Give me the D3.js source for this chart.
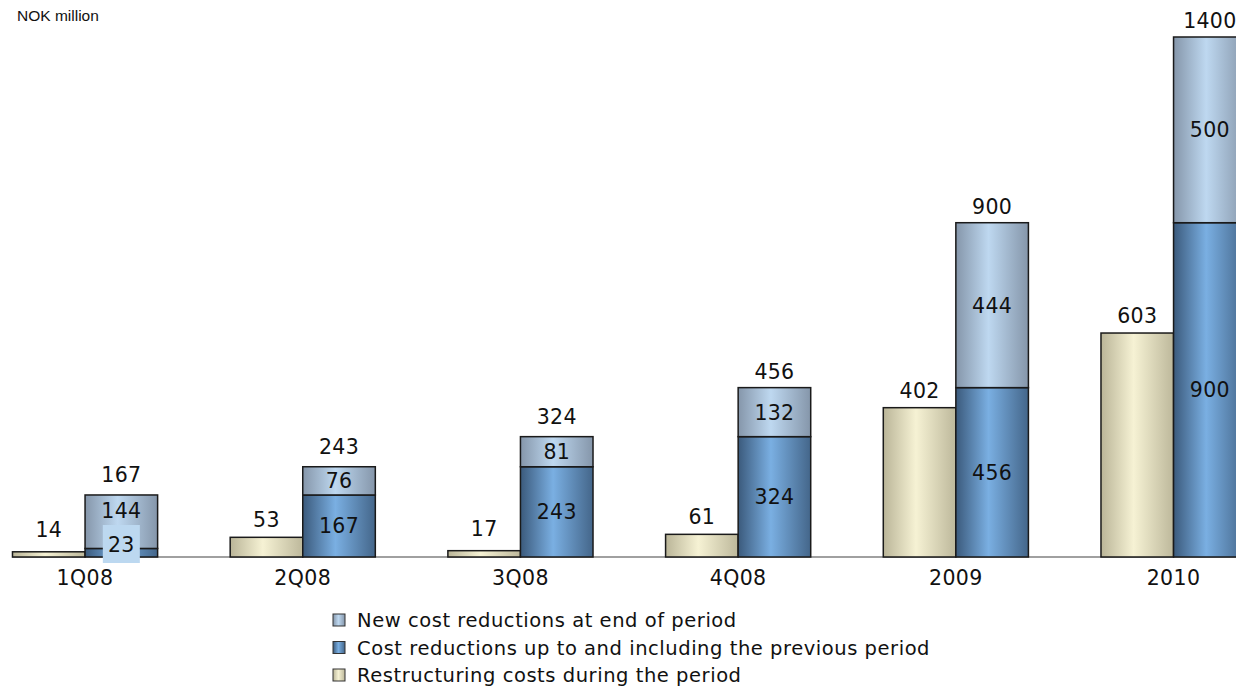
<!DOCTYPE html>
<html><head><meta charset="utf-8">
<script src="https://cdn.jsdelivr.net/npm/d3@7"></script>
<style>body{margin:0;background:#fff;overflow:hidden}svg{display:block}</style>
</head><body>
<svg id="c" width="1236" height="687"></svg>
<script>
const periods = ["1Q08","2Q08","3Q08","4Q08","2009","2010"];
const restructuring = [14,53,17,61,402,603];
const previousRed = [23,167,243,324,456,900];
const newRed = [144,76,81,132,444,500];
const legendLabels = ["New cost reductions at end of period","Cost reductions up to and including the previous period","Restructuring costs during the period"];

(function(){
const svg = d3.select("#c");
const W = 1236, H = 687;
const base = 557, plotTop = 37;
const y = d3.scaleLinear().domain([0,1400]).range([base, plotTop]);
const x = d3.scaleBand().domain(periods).range([-23.8, 1282.4]).padding(0);
const bw = x.bandwidth()/3;
const cx = p => x(p) + x.bandwidth()/2;

const defs = svg.append("defs");
function grad(id, stops){
  const g = defs.append("linearGradient").attr("id",id).attr("x1","0%").attr("x2","100%").attr("y1","0%").attr("y2","0%");
  stops.forEach(s=>g.append("stop").attr("offset",s[0]).attr("stop-color",s[1]));
}
grad("gBeige",[["0%","#bab598"],["45%","#f6f2d4"],["100%","#bdb89b"]]);
grad("gDark",[["0%","#3b5a7c"],["45%","#7aafe2"],["100%","#44668a"]]);
grad("gLight",[["0%","#8596aa"],["45%","#bed8f0"],["100%","#8596aa"]]);

svg.append("line").attr("x1",12).attr("x2",W).attr("y1",base).attr("y2",base).attr("stroke","#808080").attr("stroke-width",1.5);

const font = "'DejaVu Sans', Verdana, sans-serif";
const g = svg.append("g");

periods.forEach((p,i)=>{
  const x0 = cx(p) - bw;
  g.append("rect").attr("x",x0).attr("y",y(restructuring[i])).attr("width",bw).attr("height",base-y(restructuring[i]))
    .attr("fill","url(#gBeige)").attr("stroke","#1a1a1a").attr("stroke-width",1.5);
  g.append("rect").attr("x",cx(p)).attr("y",y(previousRed[i])).attr("width",bw).attr("height",base-y(previousRed[i]))
    .attr("fill","url(#gDark)").attr("stroke","#1a1a1a").attr("stroke-width",1.5);
  const tot = previousRed[i]+newRed[i];
  g.append("rect").attr("x",cx(p)).attr("y",y(tot)).attr("width",bw).attr("height",y(previousRed[i])-y(tot))
    .attr("fill","url(#gLight)").attr("stroke","#1a1a1a").attr("stroke-width",1.5);
});

const txt = (xx,yy,t,size,ls)=>g.append("text").attr("x",xx).attr("y",yy).attr("text-anchor","middle")
  .attr("font-family",font).attr("font-size",size).attr("letter-spacing",ls||0).attr("fill","#111").text(t);

periods.forEach((p,i)=>{
  const tot = previousRed[i]+newRed[i];
  const rOff = restructuring[i] < 30 ? 15 : 10;
  txt(cx(p)-bw/2, y(restructuring[i])-rOff, restructuring[i], 20.5, 0.3);
  const tOff = tot < 350 ? 13 : 9;
  txt(cx(p)+bw/2, y(tot)-tOff, tot, 20.5, 0.3);
  const cPrev = (base + y(previousRed[i]))/2;
  const prevY = Math.min(cPrev, base-13);
  const cNew = (y(previousRed[i]) + y(tot))/2;
  const newY = Math.min(cNew, prevY-34);
  if (prevY !== cPrev){
    g.append("rect").attr("x",cx(p)+bw/2-18.5).attr("y",prevY-19).attr("width",37).attr("height",38).attr("fill","#bcd8f0");
  }
  txt(cx(p)+bw/2, prevY+7.5, previousRed[i], 20.5, 0.3);
  txt(cx(p)+bw/2, newY+7.5, newRed[i], 20.5, 0.3);
  txt(cx(p), 585, p, 20.5, 0.4);
});

svg.append("text").attr("x",17).attr("y",21).attr("font-family","'Liberation Sans', Arial, sans-serif").attr("font-size",15.5).attr("fill","#111").text("NOK million");

const lg = svg.append("g");
const lfills = ["url(#gLight)","url(#gDark)","url(#gBeige)"];
legendLabels.forEach((t,i)=>{
  const yy = 620 + i*27.5;
  lg.append("rect").attr("x",333).attr("y",yy-6).attr("width",12).attr("height",12).attr("fill",lfills[i]).attr("stroke","#333").attr("stroke-width",1);
  lg.append("text").attr("x",357).attr("y",yy+7).attr("font-family",font).attr("font-size",19.5).attr("letter-spacing",0.55).attr("fill","#111").text(t);
});
})();
</script>
</body></html>
